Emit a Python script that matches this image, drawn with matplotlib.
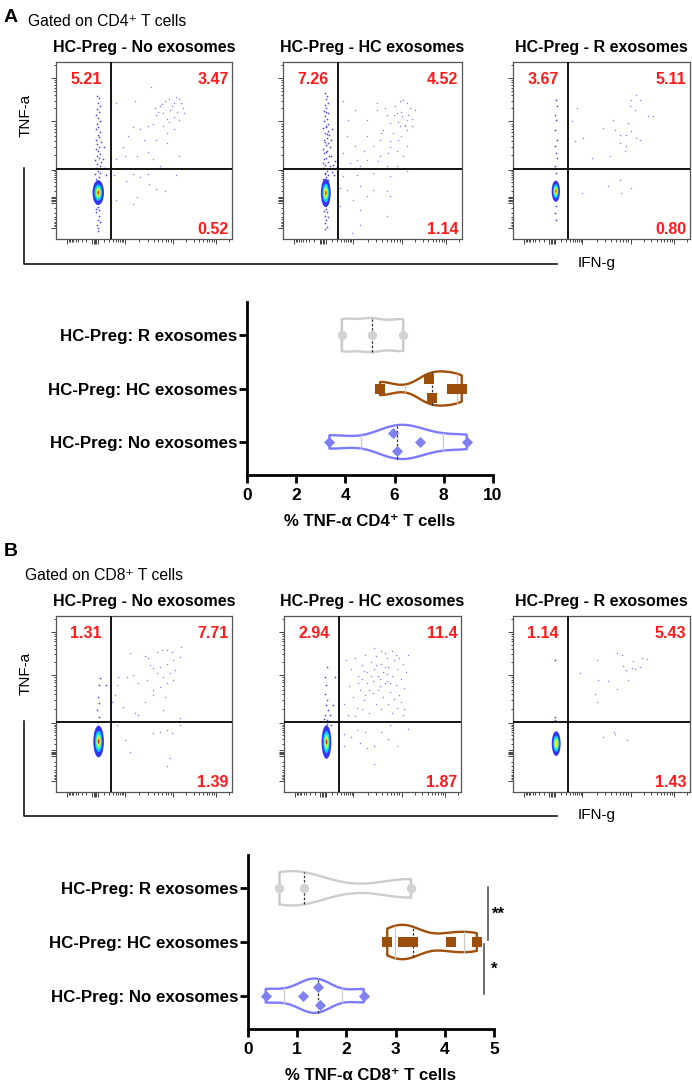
import numpy as np
import matplotlib.pyplot as plt
from matplotlib.patches import Ellipse
from matplotlib.lines import Line2D

plt.rcParams['font.family'] = ['Liberation Sans', 'DejaVu Sans']

W, H = 692, 1085

# ---------------- flow cytometry data ----------------
flow_titles = ["HC-Preg - No exosomes", "HC-Preg - HC exosomes", "HC-Preg - R exosomes"]
quad_cd4 = [["5.21", "3.47", "0.52"], ["7.26", "4.52", "1.14"], ["3.67", "5.11", "0.80"]]
quad_cd8 = [["1.31", "7.71", "1.39"], ["2.94", "11.4", "1.87"], ["1.14", "5.43", "1.43"]]
gate_x, gate_y = 31, 39.5

# dense negative population: centre x, centre y, width, height, density levels
core_cd4 = [[24.0, 26.2, 6.5, 14, 5], [23.9, 26.0, 5.5, 16, 5], [24.2, 27.0, 4.7, 12, 5]]
core_cd8 = [[24.2, 28.7, 6.0, 18, 5], [24.0, 28.4, 5.5, 19, 5], [24.4, 27.5, 5.0, 14, 4]]

# TNF-a+ IFN-g- streak (x, y) in % of axis
streak_cd4_no = np.array([
    [23.0, 34], [24.6, 35], [22.4, 36.5], [25.2, 37.5], [23.8, 38.5], [22.8, 40], [24.9, 41],
    [23.5, 42.5], [25.8, 43.5], [22.2, 44.5], [24.2, 45.5], [23.1, 47], [25.1, 48], [23.9, 49.5],
    [22.6, 51], [24.7, 52], [23.4, 53.5], [25.5, 55], [22.9, 56], [24.3, 57.5], [23.6, 59],
    [25.0, 60.5], [22.5, 62], [24.1, 63.5], [23.3, 65], [24.8, 66.5], [23.7, 68.5], [22.8, 70],
    [24.5, 71.5], [23.2, 73.5], [25.1, 75], [23.9, 77], [24.3, 79.5], [23.5, 81],
    [23.6, 18], [24.6, 16.5], [23.0, 15], [24.2, 13], [23.7, 11], [24.9, 9.5], [23.3, 8],
    [24.1, 6], [23.8, 4.5], [22.6, 17], [27.5, 40], [28.5, 36], [26.8, 45], [27.2, 52]])
streak_cd4_hc = np.array([
    [22.6, 34], [24.0, 35], [25.4, 36], [23.2, 37.5], [24.8, 38.5], [22.4, 40], [26.0, 41],
    [23.6, 42], [25.0, 43.5], [22.8, 45], [24.3, 46], [25.8, 47], [23.1, 48.5], [24.7, 50],
    [22.5, 51], [26.1, 52], [23.8, 53], [25.2, 54.5], [22.9, 56], [24.4, 57], [25.7, 58.5],
    [23.3, 60], [24.9, 61], [22.6, 62.5], [24.1, 64], [25.4, 65], [23.0, 66.5], [24.6, 68],
    [23.7, 69.5], [25.1, 71], [22.8, 72.5], [24.3, 74], [23.5, 75.5], [24.9, 77], [23.9, 79],
    [24.4, 81], [23.2, 82.5], [23.7, 36.5], [24.9, 33.5], [22.1, 43], [24.0, 49], [23.5, 55],
    [24.8, 59.5], [23.9, 63], [24.0, 71.5], [23.8, 17], [24.6, 15], [23.2, 13], [24.3, 11],
    [23.7, 9], [24.8, 7], [23.4, 5.5], [22.7, 16], [25.2, 12.5], [27.4, 38], [28.2, 42],
    [29.0, 44], [27.0, 47], [28.6, 36], [30.0, 40.5], [26.8, 56], [27.5, 62]])
streak_cd4_r = np.array([
    [24.2, 78.7], [24.8, 75], [23.8, 70.3], [24.4, 67.4], [24.0, 61.8], [24.6, 56.1],
    [23.6, 52.4], [24.2, 48.6], [24.8, 45.8], [23.9, 41.1], [24.5, 37.3], [24.1, 18.5],
    [23.7, 14.7], [24.4, 10.9]])
streak_cd8_no = np.array([
    [25.1, 64.5], [24.3, 60.8], [23.6, 54.2], [24.2, 50.4], [23.2, 46.6], [24.7, 42.8],
    [23.8, 40], [28.3, 60.8]])
streak_cd8_hc = np.array([
    [24.3, 71], [23.4, 65.3], [24.0, 60.6], [23.0, 55.9], [24.5, 52.1], [23.6, 49.2],
    [24.9, 46.4], [23.0, 43.6], [24.2, 40.7], [29.0, 65.3], [27.7, 49.2], [25.8, 43.6],
    [26.8, 37.9], [22.6, 41.7], [24.5, 38.8]])
streak_cd8_r = np.array([[23.9, 75.1], [23.5, 42.6], [23.9, 40.7]])

# IFN-g+ events (x, y) in % of axis
events_cd4_no = np.array([
    [54, 86], [45, 78], [34, 77], [56, 74], [59, 75], [62, 78], [64, 79], [67, 77], [70, 79],
    [71, 77], [69, 72], [65, 73], [61, 71], [57, 70], [63, 68], [67, 69], [70, 67], [73, 71],
    [55, 65], [52, 64], [48, 62], [44, 63], [41, 58], [38, 52], [39, 47], [34, 45], [46, 47],
    [52, 49], [57, 56], [63, 60], [67, 62], [70, 47], [63, 54], [50, 56], [55, 45], [59, 41],
    [60, 76], [66, 75], [68, 80], [72, 74], [58, 72], [64, 66], [61, 64],
    [33, 36], [40, 33], [44, 37], [48, 35], [53, 31], [57, 28], [62, 27], [46, 24], [44, 20],
    [68, 36], [52, 37], [34, 22]])
events_cd4_hc = np.array([
    [33.6, 77.8], [40.2, 73.1], [36.4, 67.4], [46.7, 67.4], [52.3, 76.8], [52.3, 73.1],
    [57, 74], [62.6, 75], [65.4, 77.8], [67.3, 78.7], [69.2, 76.8], [71, 74], [73.8, 73.1],
    [63.6, 71.2], [66.4, 69.3], [69.2, 67.4], [68.2, 64.6], [65.4, 63.7], [59.8, 65.5],
    [56.1, 61.8], [61.7, 59.9], [69.2, 61.8], [72, 63.7], [64.5, 56.1], [59.8, 55.2],
    [54.2, 56.1], [50.5, 52.4], [46.7, 58], [40.2, 52.4], [35.5, 58], [33.6, 48.6],
    [41.1, 44.8], [46.7, 44.8], [54.2, 46.7], [58.9, 48.6], [63.6, 49.5], [67.3, 46.7],
    [69.2, 52.4], [63.6, 41.1], [57.9, 41.1], [52.3, 40.1], [43, 41.1], [37.4, 42.9],
    [62, 70], [66, 72], [70, 70], [64, 66], [58, 70], [55, 60], [68, 64], [72, 68],
    [60, 52], [53, 44], [45, 50], [66, 58],
    [33.6, 35.4], [41.1, 36.3], [50.5, 37.3], [59.8, 35.4], [69.2, 38.2], [43, 29.8],
    [50.5, 27.9], [57.9, 26.9], [35.5, 27.9], [39.3, 22.2], [46.7, 24.1], [59.8, 24.1],
    [43, 16.6], [57.9, 12.8], [43, 8.1], [38.3, 3.4], [31.8, 28.8], [31.8, 18.5]])
events_cd4_r = np.array([
    [36, 74], [33.1, 66.5], [35, 55.2], [39.7, 57.1], [44.4, 45.8], [50.9, 62.7], [54.7, 46.7],
    [56.6, 67.4], [60.3, 54.2], [63.1, 49.5], [64, 58.9], [65, 65.5], [65.9, 75], [66.9, 78.7],
    [69.7, 81.5], [71.5, 78.7], [68.7, 73.1], [69.7, 57.1], [71.5, 56.1], [76.2, 69.3],
    [79, 69.3], [66.9, 60.8], [60.3, 58.9], [57.5, 61.8], [64, 52.4],
    [53.7, 29.8], [60.3, 33.5], [61.2, 26], [66.9, 28.8], [38.8, 26]])
events_cd8_no = np.array([
    [42.1, 79.1], [50.6, 77.2], [52.5, 76.4], [57.2, 79.6], [60, 80.6], [62.8, 80.9],
    [65.7, 79.6], [71.3, 82.5], [70.4, 76.8], [66.6, 74.9], [62.8, 73], [59.1, 71.1],
    [55.3, 70.2], [53.4, 72.1], [57.2, 67.4], [60.9, 65.5], [64.7, 67.4], [67.5, 69.2],
    [62.8, 61.7], [59.1, 59.8], [55.3, 57.9], [51.5, 63.6], [46.8, 61.7], [44, 66.4],
    [40.2, 65.5], [35.5, 65.5], [34.5, 60.8], [33.6, 55.1], [31.7, 51.3], [38.3, 48.5],
    [44.9, 44.7], [46.8, 43.8], [50.6, 51.3], [55.3, 55.1], [61.9, 54.2], [66.6, 63.6],
    [60.9, 46.6], [70.4, 41.9], [34.5, 38.1], [39.2, 29.6], [42.1, 23], [55.3, 33.4],
    [59.1, 34.3], [62.8, 35.3], [65.7, 33.4], [64.7, 19.2], [62.8, 14.5], [70.4, 38.1]])
events_cd8_hc = np.array([
    [35, 75], [38, 70], [40, 76], [42, 66], [44, 72], [46, 78], [47, 68], [49, 74], [50, 63],
    [51, 70], [52, 77], [53, 66], [54, 60], [55, 73], [56, 68], [57, 79], [58, 63], [59, 71],
    [60, 57], [61, 66], [62, 75], [63, 61], [64, 70], [65, 55], [66, 64], [67, 73], [68, 59],
    [69, 68], [70, 78], [37, 60], [39, 54], [41, 48], [43, 58], [45, 52], [47, 62], [48, 45],
    [50, 56], [52, 50], [53, 58], [55, 47], [56, 54], [57, 62], [59, 50], [61, 45], [62, 53],
    [64, 48], [66, 51], [67, 44], [34, 50], [36, 44], [44, 64], [48, 58], [51, 82], [55, 80],
    [58, 76], [61, 80], [63, 78], [46, 55], [49, 66], [54, 64], [58, 67], [60, 62], [52, 72],
    [57, 71], [45, 69], [42, 62], [65, 76], [40, 43], [44, 47], [68, 47],
    [34, 33], [38, 31], [41, 35], [46, 34], [47, 25], [51, 26], [55, 34], [59, 30], [64, 26],
    [51, 16], [43, 28], [34, 26], [70, 36], [60, 38]])
events_cd8_r = np.array([
    [38, 67.4], [47.4, 75], [48.3, 63.7], [53.6, 62.9], [58.6, 78.7], [61.5, 78], [62, 71.8],
    [63.9, 69.3], [64.7, 63.7], [67.1, 70.4], [68, 74.2], [72.7, 76.1], [75.6, 75.5],
    [58.6, 58.6], [46.4, 55.7], [47.4, 51], [69, 69.9], [71.8, 70.8],
    [51.1, 31.3], [56.8, 34.1], [57.7, 32.8], [64.3, 29.8]])

# ---------------- violin data ----------------
groups = ["HC-Preg: No exosomes", "HC-Preg: HC exosomes", "HC-Preg: R exosomes"]
cd4_no = [3.35, 5.95, 6.08, 7.03, 8.93]
cd4_hc = [5.41, 7.41, 7.53, 8.35, 8.73]
cd4_r = [3.85, 5.07, 6.35]
cd8_no = [0.36, 1.12, 1.42, 1.47, 2.35]
cd8_hc = [2.83, 3.15, 3.35, 4.12, 4.65]
cd8_r = [0.64, 1.13, 3.31]

edge_colors = ['#7b7bff', '#a0500a', '#cccccc']
marker_colors = ['#7f80f2', '#9c4f0b', '#d2d2d2']
markers = ['D', 's', 'o']
marker_sizes = [32, 46, 46]

fig = plt.figure(figsize=(W / 100, H / 100), dpi=100)


def box(l, t, r, b):
    return [l / W, 1 - b / H, (r - l) / W, (b - t) / H]


def ftext(x, y, s, **kw):
    fig.text(x / W, 1 - y / H, s, **kw)


jet = plt.get_cmap('jet')
core_scale = [1.0, 0.66, 0.46, 0.3, 0.15]
core_cols = [0.1, 0.33, 0.5, 0.66, 0.88]

major_t = [6.4, 39, 66.5, 91, 20.6, 21.4, 22.2, 23.0, 23.8]
minor_t = ([22 - 15.6 * np.log10(k) for k in range(2, 10)] +
           [22 + 17 * np.log10(k) for k in range(2, 10)] +
           [39 + 27.5 * np.log10(k) for k in range(2, 10)] +
           [66.5 + 24.5 * np.log10(k) for k in range(2, 10)] +
           [91 + 24.5 * np.log10(k) for k in range(2, 3)])


def flow_panel(rect, title, quad, core, streak, events):
    ax = fig.add_axes(box(*rect))
    ax.set_xlim(0, 100)
    ax.set_ylim(0, 100)
    ax.scatter(events[:, 0], events[:, 1], s=1.1, c='#5c5cf2', alpha=0.75, lw=0, zorder=1)
    ax.scatter(streak[:, 0], streak[:, 1], s=1.6, c='#3030e8', alpha=0.85, lw=0, zorder=1)
    cx, cy, w, h, lev = core
    for i in range(lev):
        ax.add_patch(Ellipse((cx, cy), w * core_scale[i], h * core_scale[i],
                             facecolor=jet(core_cols[i]), lw=0, zorder=2,
                             alpha=0.8 if i == 0 else 1))
    ax.axvline(gate_x, color='k', lw=1.3, zorder=4)
    ax.axhline(gate_y, color='k', lw=1.3, zorder=4)
    kw = dict(color='#ff1a1a', fontweight='bold', fontsize=11.5, va='center', zorder=5)
    ax.text(17, 90, quad[0], ha='center', **kw)
    ax.text(98, 90, quad[1], ha='right', **kw)
    ax.text(98, 5.5, quad[2], ha='right', **kw)
    for s in ax.spines.values():
        s.set_color('#555555')
        s.set_linewidth(0.9)
    for axis in (ax.xaxis, ax.yaxis):
        axis.set_ticks(major_t)
        axis.set_ticks(minor_t, minor=True)
    ax.tick_params(which='both', direction='out', labelbottom=False, labelleft=False,
                   color='#444444', width=0.7)
    ax.tick_params(which='major', length=3.5)
    ax.tick_params(which='minor', length=1.8)
    l, t, r, b = rect
    ftext((l + r) / 2, t - 14.5, title, ha='center', va='center',
          fontweight='bold', fontsize=11.5)
    return ax


def violin_panel(rect, data, xmax, xstep):
    ax = fig.add_axes(box(*rect))
    parts = ax.violinplot(data, positions=[0, 1, 2], widths=0.64, bw_method=0.45,
                          orientation='horizontal', showextrema=False)
    span = xmax * 0.025
    for i, body in enumerate(parts['bodies']):
        body.set_facecolor('none')
        body.set_edgecolor(edge_colors[i])
        body.set_linewidth(1.7)
        body.set_alpha(1)
        verts = body.get_paths()[0].vertices
        upper = verts[verts[:, 1] > i]
        order = np.argsort(upper[:, 0])
        vals = np.array(data[i])

        def hw(v):
            return np.interp(v, upper[order, 0], upper[order, 1]) - i

        q1, med, q3 = np.percentile(vals, [25, 50, 75], method='weibull')
        for q in (q1, q3):
            ax.plot([q, q], [i - hw(q), i + hw(q)], color='#c9c9c9', lw=0.9, zorder=2)
        ax.plot([med, med], [i - hw(med), i + hw(med)], color='#333333', lw=0.9,
                ls=(0, (2, 1.5)), zorder=2)
        # nudge overlapping points apart vertically
        sv = np.sort(vals)
        offs = np.zeros(len(sv))
        for j in range(len(sv) - 1):
            if sv[j + 1] - sv[j] < span:
                offs[j], offs[j + 1] = 0.17, -0.17
        ax.scatter(sv, i + offs, marker=markers[i], s=marker_sizes[i],
                   color=marker_colors[i], lw=0, zorder=3)
    ax.set_ylim(-0.62, 2.62)
    ax.set_xlim(0, xmax)
    ax.set_xticks(np.arange(0, xmax + 0.01, xstep))
    ax.set_yticks([0, 1, 2])
    ax.set_yticklabels(groups, fontweight='bold', fontsize=12.2)
    for lab in ax.get_xticklabels():
        lab.set_fontweight('bold')
    ax.tick_params(axis='x', labelsize=12.5, length=6, width=2, pad=3)
    ax.tick_params(axis='y', length=6, width=2, pad=1)
    for s in ('top', 'right'):
        ax.spines[s].set_visible(False)
    for s in ('left', 'bottom'):
        ax.spines[s].set_linewidth(2)
    return ax


# ---------------- panel A ----------------
ftext(4, 17, 'A', fontsize=14, fontweight='bold', va='center')
ftext(28, 22, 'Gated on CD4\u207a T cells', fontsize=11.3, va='center')
rects_A = [(56, 62, 232, 239), (283, 62, 462, 239), (513, 62, 690, 239)]
streaks_A = [streak_cd4_no, streak_cd4_hc, streak_cd4_r]
events_A = [events_cd4_no, events_cd4_hc, events_cd4_r]
for k in range(3):
    flow_panel(rects_A[k], flow_titles[k], quad_cd4[k], core_cd4[k], streaks_A[k], events_A[k])
ftext(26, 115, 'TNF-a', rotation=90, fontsize=11, ha='center', va='center')
fig.add_artist(Line2D([24 / W, 24 / W, 557 / W], [1 - 168 / H, 1 - 263.5 / H, 1 - 263.5 / H],
                      color='k', lw=1.1))
ftext(597, 263, 'IFN-g', fontsize=11, ha='center', va='center')

axA = violin_panel((247, 302, 493, 475), [cd4_no, cd4_hc, cd4_r], 10, 2)
ftext(370, 522, '% TNF-\u03b1 CD4\u207a T cells', fontsize=12.1, fontweight='bold',
      ha='center', va='center')

# ---------------- panel B ----------------
ftext(4, 551, 'B', fontsize=14, fontweight='bold', va='center')
ftext(25, 576, 'Gated on CD8\u207a T cells', fontsize=11.3, va='center')
rects_B = [(56, 616, 232, 792), (284, 616, 461, 792), (513, 616, 690, 792)]
streaks_B = [streak_cd8_no, streak_cd8_hc, streak_cd8_r]
events_B = [events_cd8_no, events_cd8_hc, events_cd8_r]
for k in range(3):
    flow_panel(rects_B[k], flow_titles[k], quad_cd8[k], core_cd8[k], streaks_B[k], events_B[k])
ftext(26, 673, 'TNF-a', rotation=90, fontsize=11, ha='center', va='center')
fig.add_artist(Line2D([24 / W, 24 / W, 557 / W], [1 - 721 / H, 1 - 816 / H, 1 - 816 / H],
                      color='k', lw=1.1))
ftext(597, 815, 'IFN-g', fontsize=11, ha='center', va='center')

axB = violin_panel((248, 855, 494, 1029), [cd8_no, cd8_hc, cd8_r], 5, 1)
ftext(371, 1075, '% TNF-\u03b1 CD8\u207a T cells', fontsize=12.1, fontweight='bold',
      ha='center', va='center')

# significance brackets
axB.plot([4.87, 4.87], [1.03, 2.02], color='#555555', lw=1.2, clip_on=False)
axB.plot([4.79, 4.79], [0.04, 0.96], color='#555555', lw=1.2, clip_on=False)
axB.text(5.1, 1.52, '**', fontsize=12, fontweight='bold', ha='center', va='center', clip_on=False)
axB.text(5.01, 0.49, '*', fontsize=12, fontweight='bold', ha='center', va='center', clip_on=False)

fig.savefig('out.png', dpi=100)
